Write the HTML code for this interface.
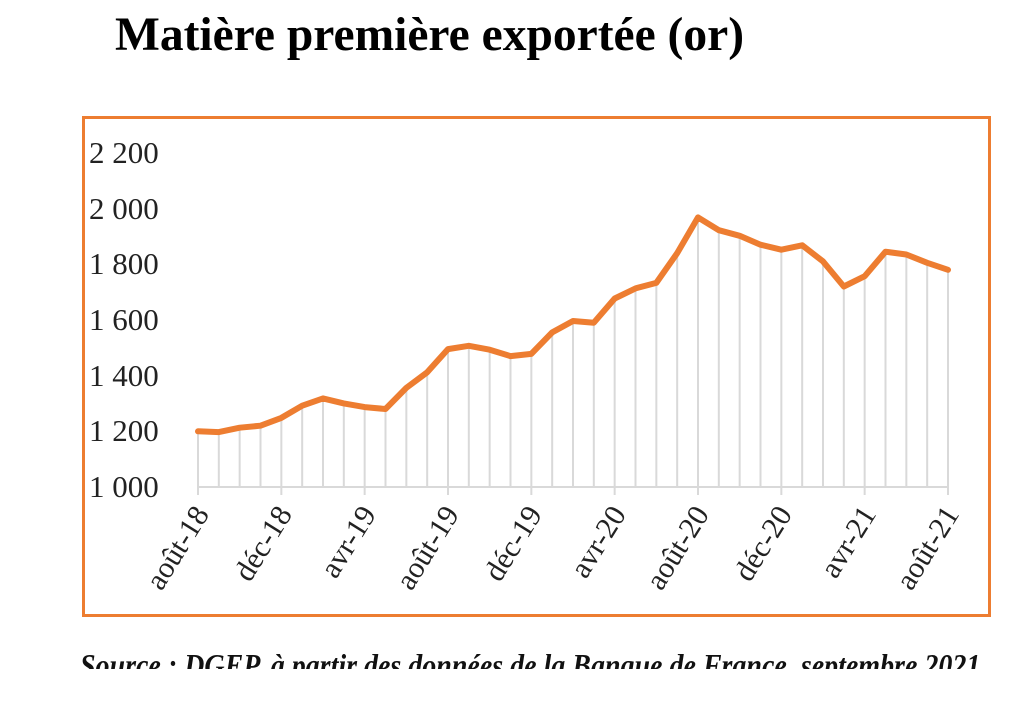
<!DOCTYPE html>
<html><head><meta charset="utf-8"><style>
html,body{margin:0;padding:0;background:#fff;width:1024px;height:718px;overflow:hidden}
svg{display:block}
</style></head><body>
<svg id="s" width="1024" height="718" viewBox="0 0 1024 718" font-family="'Liberation Serif',serif">
<text x="115" y="50" font-size="47.5" font-weight="bold" fill="#000">Matière première exportée (or)</text>
<rect x="83.5" y="117.5" width="906" height="498" fill="none" stroke="#ED7D31" stroke-width="3"/>
<g font-size="31" fill="#222">
<text x="89" y="163">2 200</text>
<text x="89" y="219">2 000</text>
<text x="89" y="274">1 800</text>
<text x="89" y="330">1 600</text>
<text x="89" y="386">1 400</text>
<text x="89" y="441">1 200</text>
<text x="89" y="497">1 000</text>
</g>
<g id="grid" stroke="#d9d9d9" stroke-width="2"></g>
<line x1="198" y1="487" x2="948" y2="487" stroke="#d9d9d9" stroke-width="2"/>
<polyline id="ln" fill="none" stroke="#ED7D31" stroke-width="6" stroke-linejoin="round" stroke-linecap="round"/>
<g font-size="30" fill="#222" text-anchor="end">
<text transform="translate(210,514) rotate(-58)">août-18</text>
<text transform="translate(293,514) rotate(-58)">déc-18</text>
<text transform="translate(377,514) rotate(-58)">avr-19</text>
<text transform="translate(460,514) rotate(-58)">août-19</text>
<text transform="translate(543,514) rotate(-58)">déc-19</text>
<text transform="translate(627,514) rotate(-58)">avr-20</text>
<text transform="translate(710,514) rotate(-58)">août-20</text>
<text transform="translate(793,514) rotate(-58)">déc-20</text>
<text transform="translate(877,514) rotate(-58)">avr-21</text>
<text transform="translate(960,514) rotate(-58)">août-21</text>
</g>
<clipPath id="c"><rect x="0" y="640" width="1024" height="29"/></clipPath>
<g clip-path="url(#c)">
<text transform="translate(80,676) scale(0.875,1)" font-size="32" font-weight="bold" font-style="italic" fill="#111">Source : DGEP, à partir des données de la Banque de France, septembre 2021</text>
</g>
</svg>
<script>
var d=[1200,1197,1213,1220,1248,1292,1318,1300,1287,1280,1356,1412,1495,1507,1493,1470,1478,1555,1596,1590,1677,1713,1733,1840,1968,1922,1902,1870,1852,1868,1810,1720,1757,1845,1835,1805,1780];
var ns="http://www.w3.org/2000/svg",g=document.getElementById('grid'),pts=[];
d.forEach(function(v,i){var x=198+i*750/36,y=487-(v-1000)*55.7/200;pts.push(x.toFixed(1)+','+y.toFixed(1));
var l=document.createElementNS(ns,'line');l.setAttribute('x1',x);l.setAttribute('x2',x);l.setAttribute('y1',y);l.setAttribute('y2',i%4==0?495:487);g.appendChild(l);});
document.getElementById('ln').setAttribute('points',pts.join(' '));
</script>
</body></html>
